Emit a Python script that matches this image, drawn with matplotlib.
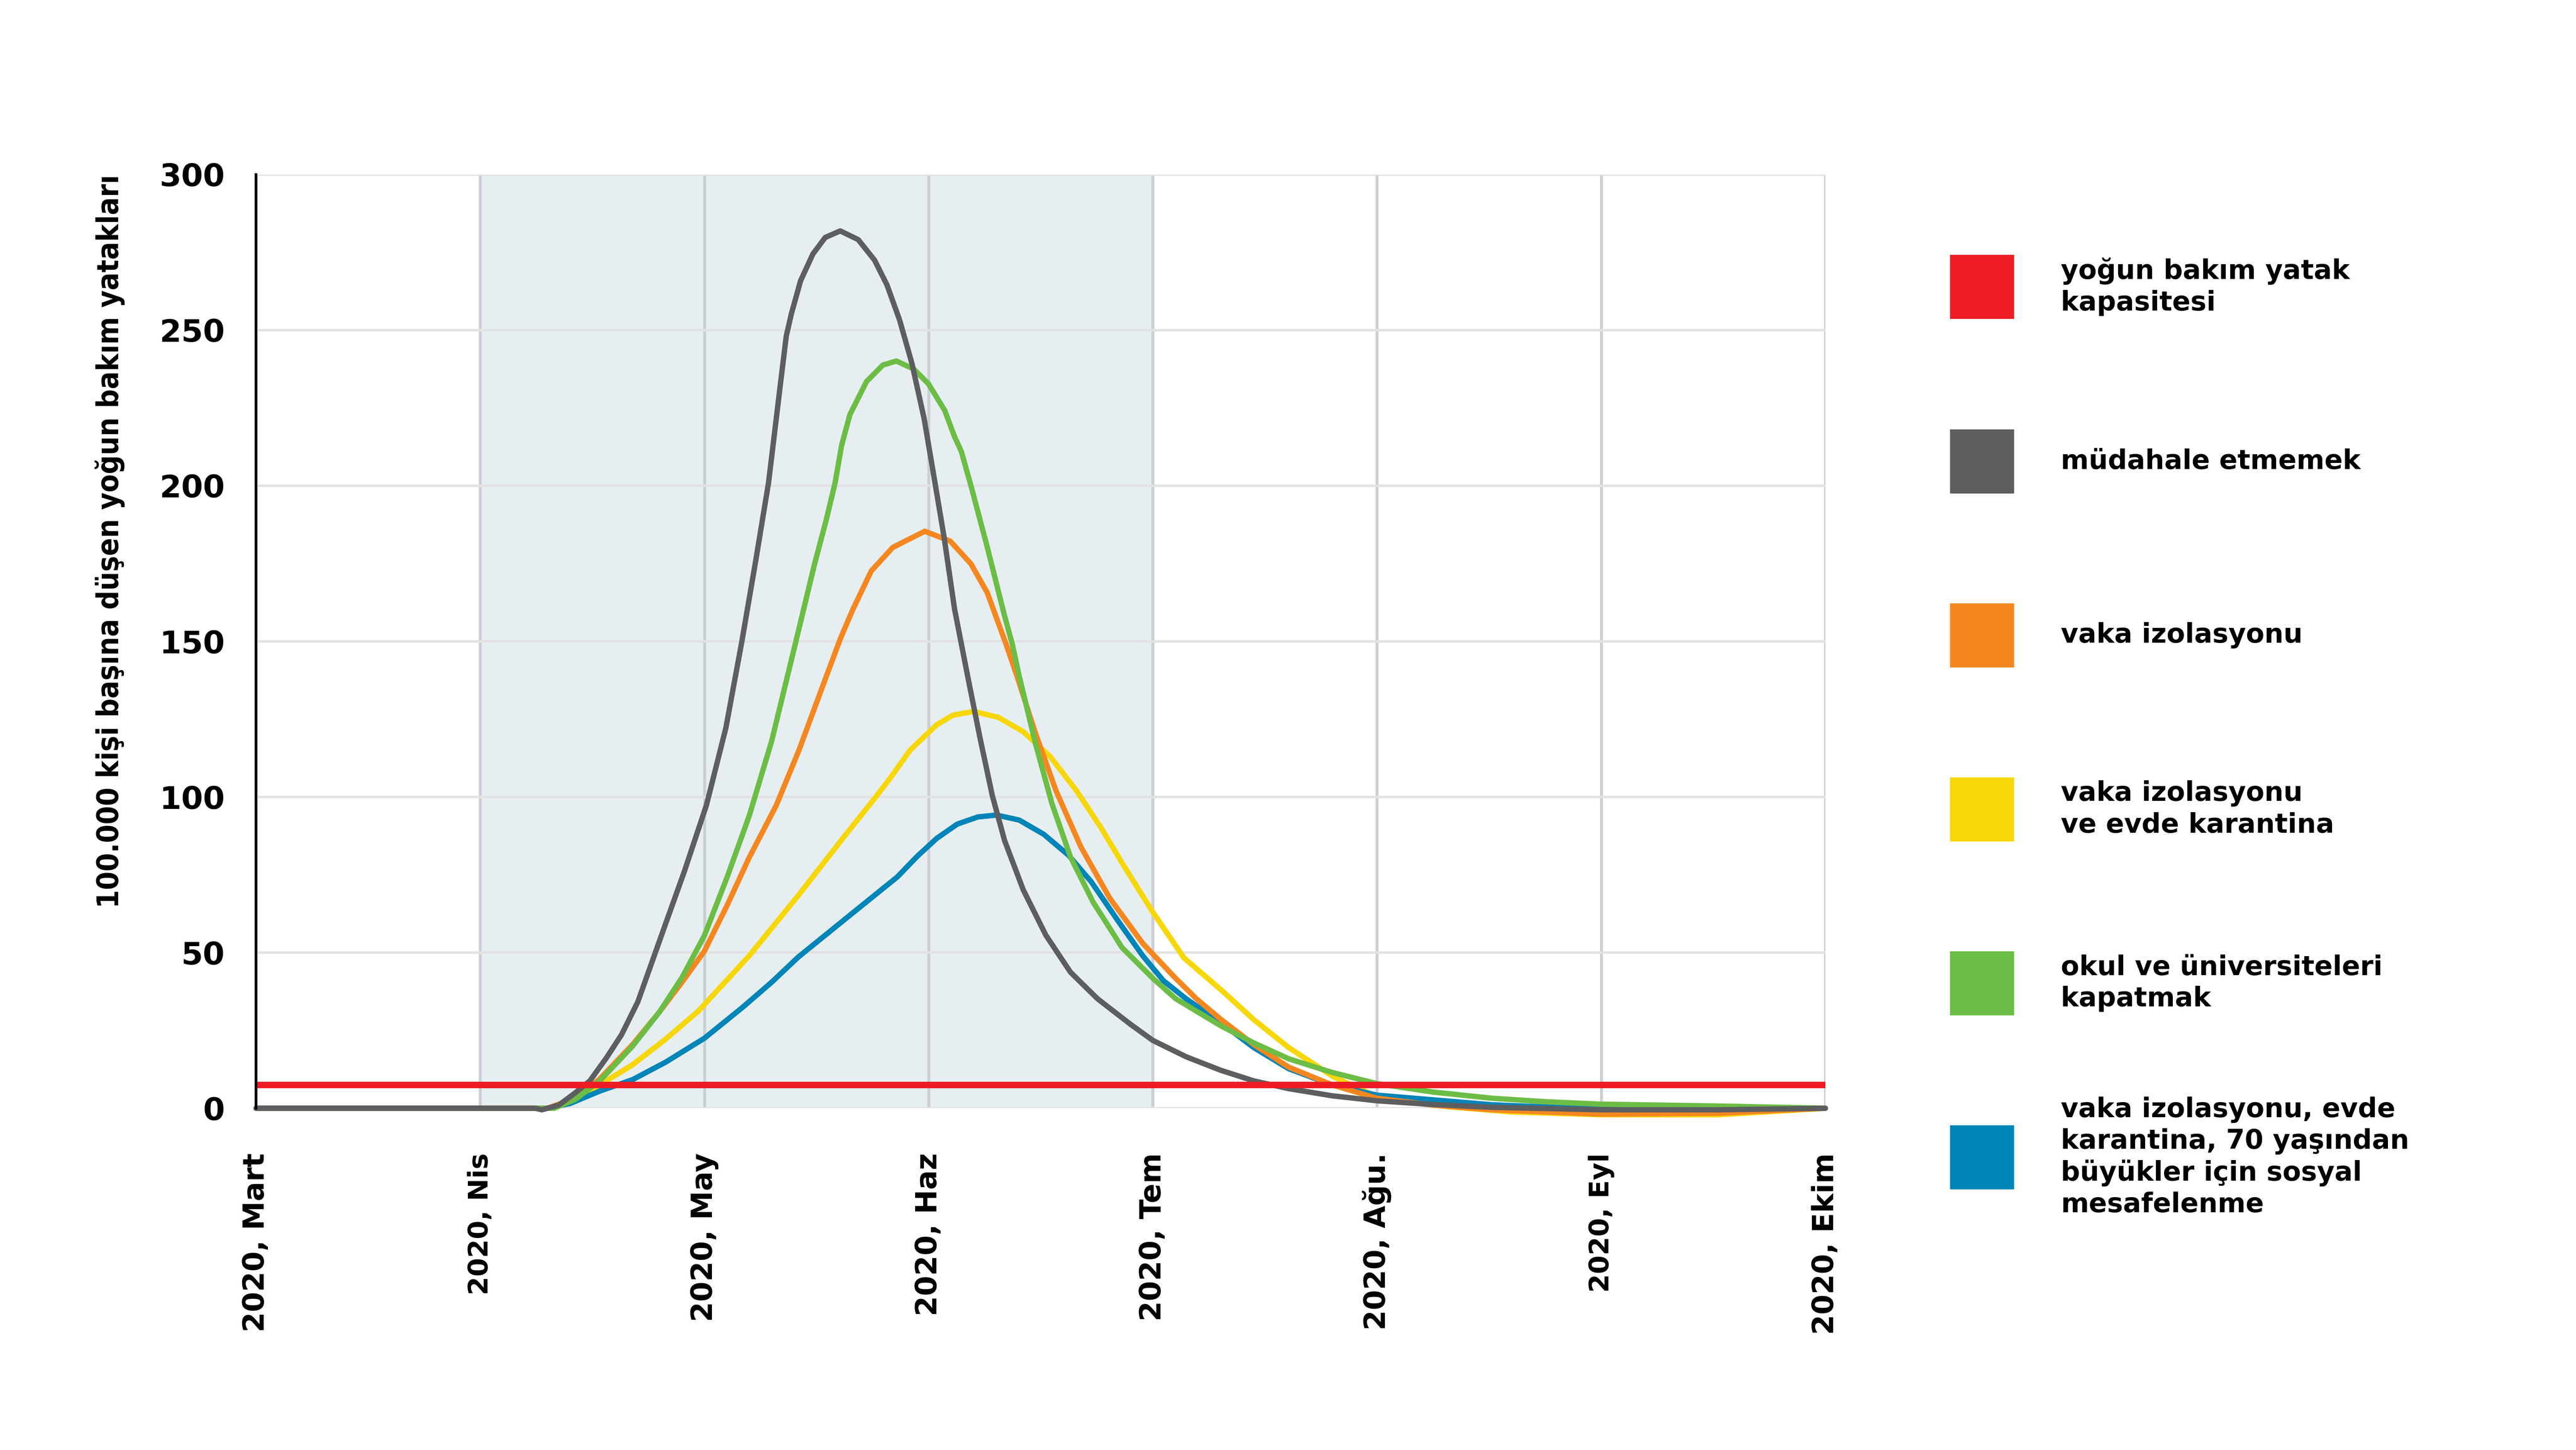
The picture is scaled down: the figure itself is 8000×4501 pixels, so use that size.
import matplotlib
matplotlib.use('Agg')
import matplotlib.pyplot as plt
from matplotlib.patches import Rectangle

# months from 2020 Mart (0) to 2020 Ekim (7)
month_labels = ['2020, Mart', '2020, Nis', '2020, May', '2020, Haz',
                '2020, Tem', '2020, Ağu.', '2020, Eyl', '2020, Ekim']

icu_capacity = 7.5

# müdahale etmemek
gray_x = [0, 1.245, 1.275, 1.35, 1.423, 1.489, 1.563, 1.63, 1.703, 1.823, 1.91,
          2.009, 2.096, 2.167, 2.229, 2.286, 2.337, 2.365, 2.388, 2.429, 2.484,
          2.539, 2.606, 2.686, 2.759, 2.814, 2.870, 2.925, 2.980, 3.023, 3.069,
          3.116, 3.174, 3.229, 3.284, 3.339, 3.422, 3.523, 3.633, 3.753, 3.9,
          4.0, 4.15, 4.303, 4.45, 4.606, 4.8, 5.0, 5.25, 5.515, 6.0, 6.525, 7.0]
gray_y = [0, 0, -0.5, 1, 4.9, 8.8, 16.2, 23.6, 34.2, 58.5, 76,
          97.4, 122.3, 150, 176, 201, 231.5, 248.1, 255.3, 265.9, 274.5,
          279.8, 281.9, 279.1, 272.5, 264.6, 253.4, 239.5, 221.6, 203.3, 183.5,
          160.3, 138.9, 119.1, 100.5, 86, 70.2, 55.6, 43.7, 35.2, 27,
          21.8, 16.5, 12.2, 8.8, 6.3, 4.0, 2.4, 1.2, 0.3, -0.5, -0.5, 0]

# okul ve üniversiteleri kapatmak
green_x = [0, 1.33, 1.423, 1.533, 1.68, 1.80, 1.9, 2.0, 2.1, 2.2, 2.3, 2.403,
           2.49, 2.545, 2.583, 2.612, 2.649, 2.723, 2.796, 2.856, 2.934, 2.999,
           3.072, 3.115, 3.146, 3.189, 3.262, 3.336, 3.373, 3.404, 3.477, 3.55,
           3.633, 3.734, 3.863, 4.001, 4.102, 4.303, 4.45, 4.606, 4.8, 5.0, 5.25,
           5.515, 5.75, 6.0, 6.525, 7.0]
green_y = [0, 0, 2.8, 8.8, 20, 31, 42, 55.5, 74, 94, 118, 148.5,
           174.5, 189.5, 201, 213, 222.9, 233.5, 238.8, 240.1, 237.5, 232.8,
           224.2, 215.9, 211, 200, 180.2, 159, 149.2, 138.9, 117.1, 97.9,
           80.7, 66.2, 51.6, 41.7, 35.2, 26.5, 21, 15.9, 11.5, 7.9, 5.2,
           3.2, 2.1, 1.3, 0.7, 0]

# vaka izolasyonu
orange_x = [0, 1.30, 1.423, 1.533, 1.68, 1.80, 1.9, 2.0, 2.1, 2.198, 2.321, 2.422,
            2.514, 2.606, 2.661, 2.744, 2.840, 2.983, 3.097, 3.189, 3.262, 3.345,
            3.394, 3.477, 3.569, 3.679, 3.808, 3.955, 4.093, 4.194, 4.303, 4.45,
            4.606, 4.8, 5.0, 5.25, 5.515, 6.0, 6.525, 7.0]
orange_y = [0, 0, 3.2, 9.4, 20.5, 31, 40.5, 50.5, 65, 80.3, 97.4, 115.1,
            133, 150.8, 160.1, 172.6, 180.2, 185.4, 182.2, 174.9, 165.6, 149.2,
            138.9, 120.4, 101.9, 84, 67.5, 53, 42.4, 35.2, 28.6, 20.5,
            13.2, 7.5, 3.2, 1.0, -0.5, -1.9, -1.6, 0]

# vaka izolasyonu ve evde karantina
yellow_x = [0, 1.30, 1.40, 1.533, 1.68, 1.827, 1.974, 2.2, 2.419, 2.62, 2.753,
            2.827, 2.918, 3.036, 3.109, 3.201, 3.311, 3.422, 3.541, 3.661, 3.771,
            3.863, 4.001, 4.139, 4.313, 4.45, 4.606, 4.808, 5.0, 5.313, 5.6, 6.0,
            6.525, 7.0]
yellow_y = [0, 0, 2, 7.5, 14, 22.2, 31.3, 49, 68.4, 87, 99,
            105.9, 115.1, 123.2, 126.3, 127.5, 125.6, 121, 113.1, 101.9, 89.9,
            78.8, 62.9, 48.3, 37.5, 28.5, 19.5, 10, 3.7, 0.5, -1.2, -2.1,
            -2.1, 0]

# vaka izolasyonu, evde karantina, 70 yaşından büyükler için sosyal mesafelenme
blue_x = [0, 1.30, 1.40, 1.533, 1.68, 1.827, 2.0, 2.17, 2.3, 2.419, 2.64, 2.86,
          2.95, 3.036, 3.128, 3.220, 3.303, 3.404, 3.514, 3.624, 3.725, 3.845,
          3.955, 4.047, 4.148, 4.303, 4.45, 4.606, 4.8, 5.0, 5.515, 6.0, 7.0]
blue_y = [0, 0, 1.5, 5.5, 9.2, 14.8, 22.5, 32.4, 40.5, 48.6, 61.5, 74.3,
          81, 86.7, 91.3, 93.6, 94.2, 92.6, 88, 81.3, 72.8, 60.2,
          49, 41, 35.2, 27.5, 19.5, 12.7, 7.5, 4.2, 1.1, -0.3, 0]

legend_labels = ['yoğun bakım yatak\nkapasitesi',
                 'müdahale etmemek',
                 'vaka izolasyonu',
                 'vaka izolasyonu\nve evde karantina',
                 'okul ve üniversiteleri\nkapatmak',
                 'vaka izolasyonu, evde\nkarantina, 70 yaşından\nbüyükler için sosyal\nmesafelenme']

RED = '#ed1c24'
GRAY = '#5d5e60'
ORANGE = '#f58720'
YELLOW = '#f7d708'
GREEN = '#6cbd45'
BLUE = '#0085b8'
legend_colors = [RED, GRAY, ORANGE, YELLOW, GREEN, BLUE]

plt.rcParams['font.family'] = ['DejaVu Sans']

fig = plt.figure(figsize=(16, 9.002), dpi=500)
ax = fig.add_axes([0.0994, 0.2357, 0.7086 - 0.0994, 0.8796 - 0.2357])

# shaded intervention period
ax.axvspan(1, 4, color='#e6eef1', zorder=0, lw=0)

lw = 2.4
line_kw = dict(lw=lw, solid_capstyle='round', solid_joinstyle='round', clip_on=False)
ax.plot(yellow_x, yellow_y, color=YELLOW, zorder=3, **line_kw)
ax.plot(blue_x, blue_y, color=BLUE, zorder=3, **line_kw)
ax.plot(orange_x, orange_y, color=ORANGE, zorder=3, **line_kw)
ax.plot(green_x, green_y, color=GREEN, zorder=3, **line_kw)
ax.plot(gray_x, gray_y, color=GRAY, zorder=4, **line_kw)
ax.axhline(icu_capacity, color=RED, lw=2.9, zorder=5)

ax.set_xlim(0, 7)
ax.set_ylim(0, 300)

ax.set_xticks(range(len(month_labels)))
ax.set_xticklabels(month_labels, rotation=90, fontweight='bold', fontsize=13)
for t in ax.get_xticklabels():
    if t.get_text() in ('2020, Nis', '2020, Eyl'):
        t.set_fontsize(12)
ax.set_yticks(range(0, 301, 50))
ax.set_yticklabels([str(v) for v in range(0, 301, 50)], fontweight='bold', fontsize=14)
ax.tick_params(axis='x', length=0, pad=20)
ax.tick_params(axis='y', length=0, pad=14)

ax.set_axisbelow(True)
ax.grid(axis='y', color='#e2e2e2', lw=1.1)
ax.grid(axis='x', color='#cbcfd3', lw=1.3)

for s in ['top', 'right', 'bottom']:
    ax.spines[s].set_visible(False)
ax.spines['left'].set_color('black')
ax.spines['left'].set_linewidth(1.2)
ax.spines['left'].set_zorder(6)

fig.text(0.0426, 0.8794, '100.000 kişi başına düşen yoğun bakım yatakları',
         rotation=90, ha='center', va='top', fontsize=13.2, fontweight='bold',
         fontstretch='condensed')

# legend drawn by hand to keep fixed spacing
centers = [890, 1432, 1972, 2512, 3052, 3592]
for lab, col, cy in zip(legend_labels, legend_colors, centers):
    yc = 1 - cy / 4501
    h = 199 / 4501
    fig.patches.append(Rectangle((6056 / 8000, yc - h / 2), 199 / 8000, h,
                                 transform=fig.transFigure, color=col, lw=0))
    fig.text(6400 / 8000, yc, lab, ha='left', va='center', fontsize=12,
             fontweight='bold', linespacing=1.25)

fig.savefig('out.png', dpi=500, facecolor='white')
